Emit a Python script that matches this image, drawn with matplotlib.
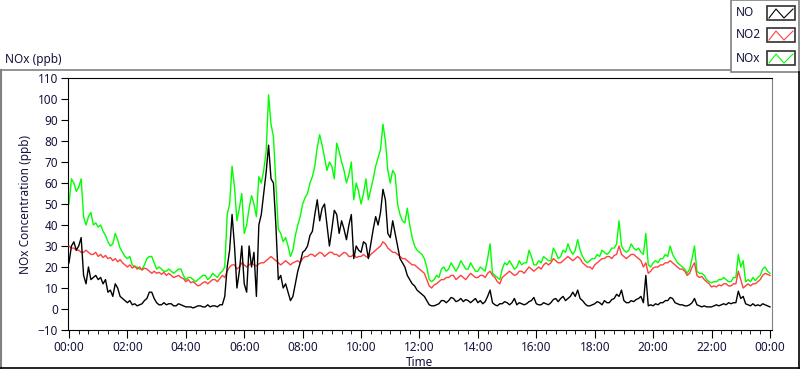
import numpy as np
import matplotlib
matplotlib.use('Agg')
import matplotlib.pyplot as plt
from matplotlib.lines import Line2D
from matplotlib.patches import Rectangle
from matplotlib.ticker import MultipleLocator

plt.rcParams['font.family'] = ['Noto Sans', 'DejaVu Sans']

# 5-minute readings, 00:00 .. 24:00 (289 points), one row per 2 hours
minutes = np.arange(0, 1441, 5)

no_ppb = [
    22, 30, 32, 28, 30, 34, 16, 12, 20, 14, 15, 16, 14, 15, 12, 14, 8, 9, 6, 12, 10, 6, 5, 4,
    3, 4, 2, 2.5, 1.5, 2, 2.5, 4, 5, 8, 8, 5, 3, 2, 2, 3, 2, 2.5, 2.5, 1.5, 1.5, 2.5, 2, 1.5,
    1, 1, 1, 0.5, 1, 1.5, 1.5, 1, 1, 2, 1, 1.5, 1.5, 1, 2, 2, 6, 20, 28, 45, 30, 10, 18, 30,
    12, 8, 30, 20, 27, 6, 40, 45, 55, 65, 78, 62, 60, 40, 14, 16, 10, 12, 8, 4, 6, 12, 18, 22,
    27, 28, 30, 35, 37, 45, 52, 42, 48, 50, 40, 30, 38, 47, 45, 36, 42, 38, 33, 40, 45, 24, 30, 28,
    27, 32, 31, 24, 31, 38, 44, 40, 46, 57, 52, 36, 34, 42, 36, 30, 24, 22, 20, 16, 14, 12, 11, 9,
    8, 7, 6, 4, 2, 1.5, 1.5, 2, 2.5, 4, 4, 3, 4, 5.5, 5, 3.5, 4, 5, 3.5, 4.5, 4, 3, 4, 5,
    3, 4, 2.5, 3.5, 6, 9, 3, 2, 1.5, 2.5, 2.5, 3.5, 3, 2, 3, 5, 2, 3, 2.5, 2, 2.5, 3.5, 4, 5.5,
    2.5, 2, 2, 3, 2.5, 2, 3, 4.5, 5, 3.5, 5, 6, 4, 5, 6, 8, 6, 9, 5, 4, 2.5, 1.5, 1.5, 2,
    2.5, 3.5, 3, 2, 4, 3, 3, 4.5, 5, 7, 6, 9, 4, 3, 3, 4, 3.5, 4.5, 5, 6, 3, 16, 1.5, 2,
    1.5, 2.5, 2, 3, 3, 4, 4, 5.5, 5, 3, 2.5, 2, 2, 1.5, 1.5, 2, 3, 5, 2, 1.5, 1, 1.5, 1, 1,
    1, 1.5, 2, 1.5, 2, 2.5, 2, 3, 2.5, 3, 3, 8.5, 5, 6, 2.5, 2, 1.5, 2.5, 1.5, 2, 1.5, 2.5, 2, 1.5,
    1,
]

no2_ppb = [
    30, 29, 29, 28, 28, 27, 27, 28, 27, 26, 26, 27, 25, 26, 24.5, 25.5, 24, 24.5, 23, 24, 22.5, 23.5, 22, 21,
    20, 21, 19.5, 20.5, 19, 20, 18.5, 19.5, 19, 18, 17, 18, 17, 17.5, 16.5, 17.5, 16, 17, 16, 15, 15.5, 16, 15, 14.5,
    13, 14, 12.5, 13, 12, 11, 11.5, 12.5, 13, 12, 13, 14, 14, 13, 14.5, 16, 15, 18, 20, 21, 21, 19, 20, 22,
    21, 20, 21, 22, 21, 20.5, 21.5, 22, 22, 23, 24, 25, 24, 23, 22, 21, 22, 23, 22, 21, 22, 22.5, 23, 22,
    24, 25, 25, 26, 26, 25, 26, 27, 26.5, 25, 26, 27, 27, 26, 26, 25, 26, 27, 26.5, 25, 25, 26, 24.5, 25,
    25, 26, 25, 24.5, 26, 27, 28, 29, 30, 32, 31, 29, 28, 27, 27, 26, 25, 24, 24, 23, 22, 21, 21, 20,
    19, 18, 17, 14, 11, 10, 11.5, 12, 13, 14, 14, 15, 15, 16, 16, 14, 15, 16, 15, 14, 15.5, 17, 16, 15,
    15, 16, 16, 15, 17, 18, 16, 15, 13, 12, 15, 16, 17, 18, 17, 16, 16.5, 18, 18, 17, 18.5, 20, 19, 18,
    19, 20, 19, 21, 22, 21, 22, 24, 23, 22, 22, 23, 24, 25, 24, 23, 24, 25, 24, 22, 21, 20, 20, 19,
    21, 22, 23, 24, 24, 25, 25, 24, 25.5, 26, 30, 26, 25, 24, 25, 26, 26, 25, 24, 23, 20, 22, 17, 18,
    19.5, 20, 20, 21, 21, 22, 22, 23, 22, 21, 20, 19, 19, 18, 16, 17, 20, 22, 16, 15, 15.5, 14, 13, 12,
    10.5, 11, 10.5, 11.5, 11, 12, 12, 11, 11, 12, 12, 18, 14, 10, 11, 12, 11, 12, 12, 13, 14, 16, 17, 16.5,
    16,
]

nox_ppb = [
    50, 62, 60, 56, 58, 62, 44, 40, 44, 46, 40, 41, 39, 40, 37, 35, 32, 30, 31, 36, 33, 29, 27, 25,
    24, 25, 21, 20, 20, 19, 19, 21, 24, 25, 25, 22, 19, 20, 19, 18, 18, 19, 18, 17, 18, 19, 19, 16,
    14, 15, 15, 14, 13, 14, 15, 16, 16, 14, 15, 17, 16, 15, 17, 18, 20, 45, 50, 68, 58, 42, 48, 55,
    36, 40, 48, 54, 50, 44, 63, 60, 66, 75, 102, 88, 82, 60, 38, 36, 32, 34, 30, 25, 28, 35, 40, 44,
    50, 53, 55, 60, 63, 68, 77, 83, 78, 72, 66, 70, 68, 62, 79, 75, 70, 66, 60, 64, 70, 52, 60, 56,
    50, 55, 62, 52, 57, 62, 68, 72, 76, 88, 80, 66, 60, 66, 64, 50, 45, 42, 41, 48, 40, 34, 30, 28,
    27, 26, 24, 20, 14, 13, 14, 16, 15, 19, 20, 18, 19, 22, 20, 18, 20, 23, 21, 19, 19, 22, 20, 18,
    18, 20, 19, 18, 24, 31, 17, 16, 15, 14, 19, 22, 21, 23, 21, 19, 20, 23, 21, 22, 22, 28, 25, 21,
    21, 23, 22, 25, 24, 23, 23, 29, 27, 24, 25, 28, 27, 31, 28, 26, 28, 33, 28, 25, 23, 22, 23, 24,
    24, 26, 25, 28, 27, 26, 27, 29, 29, 31, 42, 30, 28, 27, 28, 31, 29, 28, 29, 27, 26, 36, 21, 20,
    22, 23, 22, 24, 24, 26, 25, 30, 26, 24, 22, 21, 20, 19, 17, 19, 24, 30, 18, 17, 17, 16, 14, 13,
    12.5, 13, 13, 14, 14, 15, 14, 13, 13, 15, 15, 26, 20, 23, 13, 14, 13, 15, 13.5, 15, 16, 19, 20, 18,
    17,
]

tick_labels = ['00:00', '02:00', '04:00', '06:00', '08:00', '10:00', '12:00',
               '14:00', '16:00', '18:00', '20:00', '22:00', '00:00']
series_names = ['NO', 'NO2', 'NOx']
series_colors = ['#000000', '#ff4040', '#00ff00']

W, H = 800, 369
fig = plt.figure(figsize=(W / 100, H / 100), dpi=100)

def fx(x):
    return x / W

def fy(y):
    return 1 - y / H

hours = minutes / 60.0
ax = fig.add_axes([fx(68), fy(330), fx(772) - fx(68), fy(78) - fy(330)])
ax.plot(hours, nox_ppb, color=series_colors[2], lw=1.0, zorder=2)
ax.plot(hours, no2_ppb, color=series_colors[1], lw=1.0, zorder=3)
ax.plot(hours, no_ppb, color=series_colors[0], lw=1.0, zorder=4)

ax.set_xlim(-0.034, 24.07)
ax.set_ylim(-10, 110)
ax.set_xticks(np.arange(0, 25, 2))
ax.set_xticklabels(tick_labels)
ax.xaxis.set_minor_locator(MultipleLocator(1 / 3))
ax.set_yticks(np.arange(-10, 111, 10))
txt_col = '#14143c'
ax.tick_params(axis='both', which='major', labelsize=8.5, colors='black', labelcolor=txt_col)
ax.tick_params(axis='x', which='major', length=6, pad=2)
ax.tick_params(axis='x', which='minor', length=3)
ax.tick_params(axis='y', which='major', length=5, pad=2)
ax.set_xlabel('Time', fontsize=8.5, color=txt_col, labelpad=1)
ax.set_ylabel('NOx Concentration (ppb)', fontsize=8.5, color=txt_col, labelpad=4)
for s in ['left', 'bottom', 'top']:
    ax.spines[s].set_color('black')
ax.spines['right'].set_color('#808080')

# outer frame
gray = '#808080'
fig.add_artist(Line2D([fx(0.5), fx(730)], [fy(69.5), fy(69.5)], color=gray, lw=1.2))
fig.add_artist(Line2D([fx(0.8), fx(0.8)], [fy(69.5), fy(368)], color=gray, lw=1.5))
fig.add_artist(Line2D([fx(0), fx(800)], [fy(368), fy(368)], color='black', lw=1.2))
fig.add_artist(Line2D([fx(799), fx(799)], [fy(72), fy(368)], color='black', lw=1.2))

fig.text(fx(5), fy(60), 'NOx (ppb)', fontsize=8.5, color=txt_col, va='center', ha='left')

# legend
fig.add_artist(Rectangle((fx(730.5), fy(72)), fx(799) - fx(730.5), fy(0) - fy(72),
                         fill=False, edgecolor=gray, lw=1.2))
rows = [13, 35, 58]
for name, col, yc in zip(series_names, series_colors, rows):
    fig.text(fx(736), fy(yc), name, fontsize=8.5, color=txt_col, va='center', ha='left')
    fig.add_artist(Rectangle((fx(767), fy(yc + 7)), fx(795) - fx(767), fy(yc - 7) - fy(yc + 7),
                             fill=False, edgecolor='#303030', lw=1.2))
    zx = [769, 776, 784, 793]
    zy = [yc + 5, yc - 4, yc + 5, yc - 4]
    fig.add_artist(Line2D([fx(v) for v in zx], [fy(v) for v in zy], color=col, lw=0.8))

fig.savefig('out.png', dpi=100)
